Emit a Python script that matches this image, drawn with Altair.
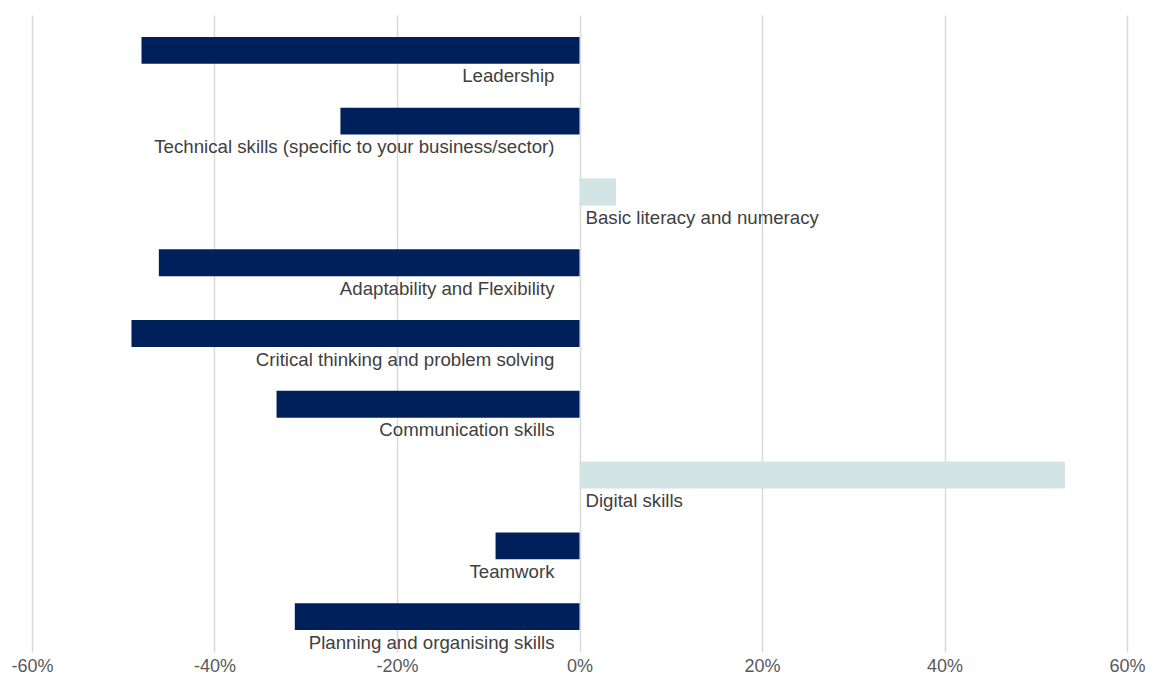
import altair as alt
import pandas as pd

skills = [
    "Leadership",
    "Technical skills (specific to your business/sector)",
    "Basic literacy and numeracy",
    "Adaptability and Flexibility",
    "Critical thinking and problem solving",
    "Communication skills",
    "Digital skills",
    "Teamwork",
    "Planning and organising skills",
]
values = [-0.48, -0.262, 0.04, -0.461, -0.491, -0.332, 0.532, -0.092, -0.312]

df = pd.DataFrame({"skill": skills, "value": values})
df["sign"] = ["neg" if v < 0 else "pos" for v in values]

y_enc = alt.Y("skill:N", sort=skills, axis=None,
              scale=alt.Scale(paddingInner=0.62, paddingOuter=0.31))

bars = alt.Chart(df).mark_bar().encode(
    x=alt.X("value:Q",
            scale=alt.Scale(domain=[-0.6, 0.6]),
            axis=alt.Axis(values=[-0.6, -0.4, -0.2, 0, 0.2, 0.4, 0.6],
                          labelExpr="round(datum.value * 100) + '%'",
                          labelFlush=False,
                          title=None, domain=False, ticks=False,
                          labelFont="Liberation Sans", labelFontSize=18,
                          labelColor="#595959", labelPadding=5,
                          gridColor="#d9d9d9", gridWidth=1.5)),
    y=y_enc,
    color=alt.Color("sign:N", scale=alt.Scale(domain=["neg", "pos"],
                                              range=["#00205B", "#D2E4E4"]),
                    legend=None),
)

base_text = alt.Chart(df).encode(
    x=alt.datum(0),
    y=y_enc,
    text="skill:N",
)

neg_text = base_text.transform_filter("datum.value < 0").mark_text(
    align="right", baseline="middle", dx=-25, dy=26,
    font="Liberation Sans", fontSize=18.67, color="#404040")

pos_text = base_text.transform_filter("datum.value >= 0").mark_text(
    align="left", baseline="middle", dx=6, dy=26,
    font="Liberation Sans", fontSize=18.67, color="#404040")

chart = (bars + neg_text + pos_text).properties(
    width=1095, height=637,
    autosize=alt.AutoSizeParams(type="none"),
    padding={"left": 24, "top": 7, "right": 20, "bottom": 22},
).configure_view(stroke=None)

chart.save("out.html", embed_options={"renderer": "svg", "actions": False})
